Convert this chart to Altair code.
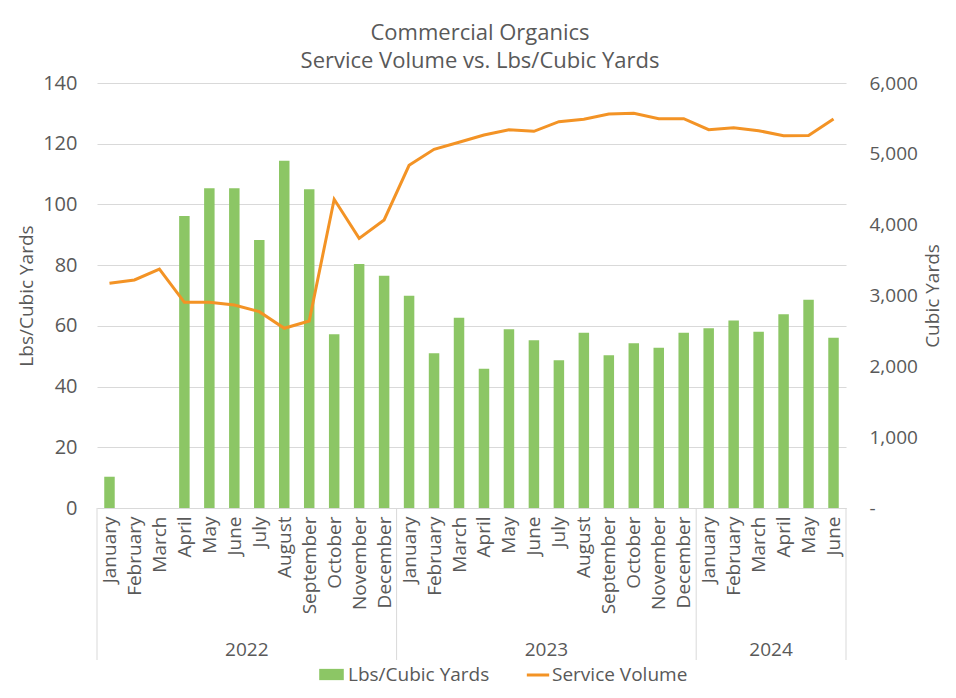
import altair as alt
import pandas as pd

# ---- data ----
month_names = ["January", "February", "March", "April", "May", "June", "July",
               "August", "September", "October", "November", "December"]
years = [2022] * 12 + [2023] * 12 + [2024] * 6
months = month_names * 2 + month_names[:6]
lbs_per_cy = [10.3, None, None, 96.2, 105.3, 105.3, 88.3, 114.4, 105.0, 57.2, 80.4, 76.5,
              69.9, 51.0, 62.7, 45.9, 58.9, 55.3, 48.7, 57.7, 50.3, 54.3, 52.8, 57.7,
              59.2, 61.8, 58.1, 63.8, 68.6, 56.1]
service_volume = [3172, 3219, 3374, 2904, 2904, 2866, 2772, 2537, 2640, 4358, 3807, 4066,
                  4838, 5064, 5163, 5266, 5341, 5318, 5454, 5487, 5562, 5572, 5496, 5496,
                  5341, 5369, 5327, 5256, 5260, 5492]
year_labels = ["2022", "2023", "2024"]
year_counts = [12, 12, 6]

# ---- styling ----
W, H = 749, 425
FONT = "Open Sans"
TXT = "#595959"
GRID = "#D9D9D9"
GREEN = "#8CC665"
ORANGE = "#F39325"
BAR_W = 0.42

n = len(months)
df = pd.DataFrame({
    "idx": list(range(n)),
    "month": months,
    "year": years,
    "lbs": lbs_per_cy,
    "vol": service_volume,
})
df["center"] = df["idx"] + 0.5
df["x0"] = df["center"] - BAR_W / 2
df["x1"] = df["center"] + BAR_W / 2
df["s1"] = "Lbs/Cubic Yards"
df["s2"] = "Service Volume"

starts = [0]
for c in year_counts:
    starts.append(starts[-1] + c)
sep_df = pd.DataFrame({"pos": starts})
yr_df = pd.DataFrame({
    "year": year_labels,
    "mid": [(starts[i] + starts[i + 1]) / 2 for i in range(len(year_labels))],
})

xscale = alt.Scale(domain=[0, n], nice=False, zero=False)
month_arr = "[" + ",".join("'%s'" % m for m in months) + "]"


def xaxis():
    return alt.Axis(
        values=[i + 0.5 for i in range(n)],
        labelExpr=month_arr + "[floor(datum.value)]",
        labelAngle=-90, labelFontSize=19, labelColor=TXT, labelPadding=8,
        ticks=False, grid=False, domain=True, domainColor=GRID, title=None,
        labelOverlap=False, labelFont=FONT, labelBound=False, labelFlush=False,
    )


bars = alt.Chart(df).mark_bar().encode(
    x=alt.X("x0:Q", scale=xscale, axis=xaxis()),
    x2="x1:Q",
    y=alt.Y("lbs:Q", scale=alt.Scale(domain=[0, 140], nice=False),
            axis=alt.Axis(values=list(range(0, 141, 20)), title="Lbs/Cubic Yards",
                          titleFontSize=19, titleColor=TXT, titleFontWeight="normal",
                          labelFontSize=20, labelColor=TXT, labelPadding=20,
                          ticks=False, domain=False, gridColor=GRID, titlePadding=6)),
    y2=alt.datum(0),
    color=alt.Color("s1:N", scale=alt.Scale(domain=["Lbs/Cubic Yards"], range=[GREEN]),
                    legend=alt.Legend(orient="none", legendX=224, legendY=581, title=None,
                                      symbolType="M-1.2,-0.55H1.2V0.55H-1.2Z",
                                      symbolSize=420, symbolStrokeWidth=0,
                                      labelFontSize=19, labelColor=TXT, padding=0,
                                      labelOffset=6)),
)

line = alt.Chart(df).mark_line(strokeWidth=3).encode(
    x=alt.X("center:Q", scale=xscale, axis=xaxis()),
    y=alt.Y("vol:Q", scale=alt.Scale(domain=[0, 6000], nice=False),
            axis=alt.Axis(orient="right", values=list(range(0, 6001, 1000)),
                          labelExpr="datum.value == 0 ? '-' : format(datum.value, ',')",
                          title="Cubic Yards", titleAngle=-90, titleBaseline="top",
                          titleFontSize=19, titleColor=TXT, titleFontWeight="normal",
                          titlePadding=6,
                          labelFontSize=19, labelColor=TXT, labelPadding=23,
                          ticks=False, domain=False, grid=False)),
    stroke=alt.Stroke("s2:N", scale=alt.Scale(domain=["Service Volume"], range=[ORANGE]),
                      legend=alt.Legend(orient="none", legendX=428, legendY=579, title=None,
                                        symbolType="stroke", symbolSize=500,
                                        symbolStrokeWidth=3,
                                        labelFontSize=19, labelColor=TXT, padding=0,
                                        labelOffset=1)),
)

seps = alt.Chart(sep_df).mark_rule(color=GRID, strokeWidth=1).encode(
    x=alt.X("pos:Q", scale=xscale, axis=xaxis()),
    y=alt.value(H),
    y2=alt.value(H + 152),
)

yr_text = alt.Chart(yr_df).mark_text(fontSize=19, color=TXT, font=FONT).encode(
    x=alt.X("mid:Q", scale=xscale, axis=xaxis()),
    y=alt.value(H + 142),
    text="year:N",
)

chart = alt.layer(bars, line, seps, yr_text).resolve_scale(
    y="independent"
).properties(
    width=W, height=H,
    autosize=alt.AutoSizeParams(type="none"),
    padding={"left": 89, "top": 75, "right": 100, "bottom": 182},
    title=alt.Title(["Commercial Organics", "Service Volume vs. Lbs/Cubic Yards"],
                    fontSize=22, font=FONT, color=TXT, fontWeight="normal",
                    anchor="middle", frame="bounds", offset=0, lineHeight=28),
).configure(font=FONT).configure_view(stroke=None).configure_axis(labelOverlap=False)

chart.save("out.html", embed_options={"renderer": "svg", "actions": False})
